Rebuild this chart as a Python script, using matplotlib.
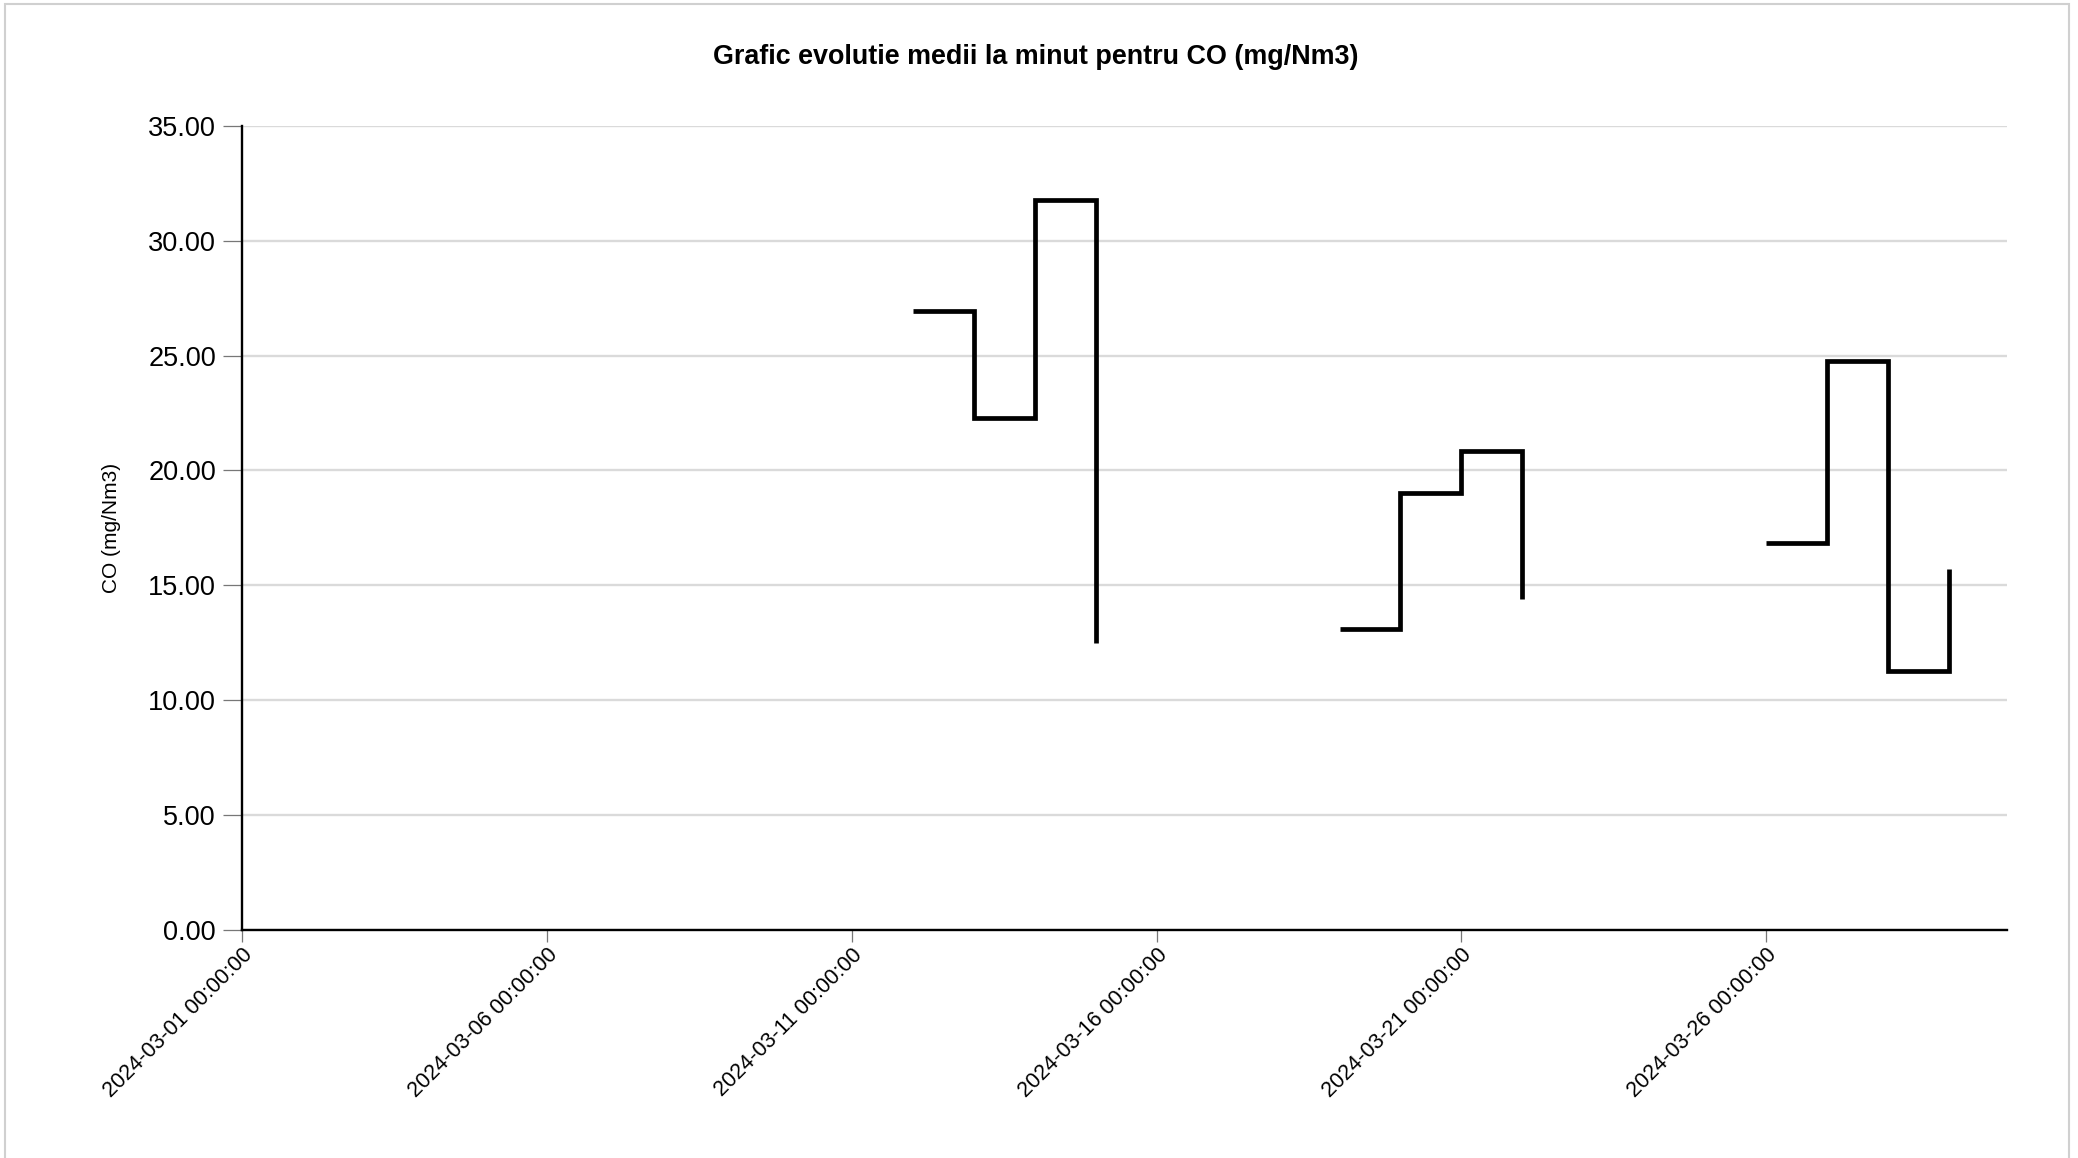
import matplotlib
matplotlib.use("Agg")
import matplotlib.pyplot as plt
import matplotlib.dates as mdates
from matplotlib.patches import Rectangle
from matplotlib.ticker import FormatStrFormatter
import pandas as pd

# --- data ---
seg1_dates = ["2024-03-12", "2024-03-13", "2024-03-14", "2024-03-15"]
seg1_vals = [26.95, 22.27, 31.78, 12.50]
seg2_dates = ["2024-03-19", "2024-03-20", "2024-03-21", "2024-03-22"]
seg2_vals = [13.11, 19.00, 20.86, 14.38]
seg3_dates = ["2024-03-26", "2024-03-27", "2024-03-28", "2024-03-29"]
seg3_vals = [16.84, 24.75, 11.27, 15.71]

x_start = "2024-03-01 00:00:00"
x_end = "2024-03-29 22:48:00"
x_ticks = ["2024-03-01", "2024-03-06", "2024-03-11", "2024-03-16", "2024-03-21", "2024-03-26"]
y_ticks = [0, 5, 10, 15, 20, 25, 30, 35]

title = "Grafic evolutie medii la minut pentru CO (mg/Nm3)"
ylabel = "CO (mg/Nm3)"

plt.rcParams['font.family'] = ['Liberation Sans', 'DejaVu Sans']

W, H = 2078, 1158
fig = plt.figure(figsize=(W / 100, H / 100), dpi=100)
fig.patch.set_facecolor("white")

ax = fig.add_axes([242.3 / W, 1 - 929.7 / H, (2007 - 242.3) / W, (929.7 - 126) / H])

for d, v in [(seg1_dates, seg1_vals), (seg2_dates, seg2_vals), (seg3_dates, seg3_vals)]:
    ax.plot(pd.to_datetime(d), v, drawstyle="steps-post", color="black",
            lw=3.4, solid_joinstyle="miter", solid_capstyle="butt", zorder=3)

ax.set_xlim(pd.Timestamp(x_start), pd.Timestamp(x_end))
ax.set_ylim(0, 35)
ax.set_yticks(y_ticks)
ax.yaxis.set_major_formatter(FormatStrFormatter("%.2f"))
ax.set_xticks(pd.to_datetime(x_ticks))
ax.xaxis.set_major_formatter(mdates.DateFormatter("%Y-%m-%d %H:%M:%S"))

ax.grid(axis="y", color="#dadada", lw=1.7, zorder=0)
ax.set_axisbelow(True)

for s in ["top", "right"]:
    ax.spines[s].set_visible(False)
for s in ["left", "bottom"]:
    ax.spines[s].set_color("black")
    ax.spines[s].set_linewidth(1.7)

ax.tick_params(axis="y", length=14, width=0.9, color="#777777", pad=5,
               labelsize=19.5, labelcolor="black")
ax.tick_params(axis="x", length=8.5, width=0.9, color="#777777", pad=2,
               labelsize=15.5, labelcolor="black")
for lbl in ax.get_xticklabels():
    lbl.set_rotation(45)
    lbl.set_ha("right")
    lbl.set_va("top")
    lbl.set_rotation_mode("anchor")

ax.set_ylabel(ylabel, fontsize=15, labelpad=0)
ax.yaxis.set_label_coords((121 - 242.3) / (2007 - 242.3), 0.5)

fig.text(0.4986, 1 - 57 / H, title, ha="center", va="center",
         fontsize=19.4, fontweight="bold")

# light frame around the chart
fig.patches.append(Rectangle((5 / W, -0.05), (2069 - 5) / W, 1.05 - 4 / H,
                             transform=fig.transFigure, fill=False,
                             edgecolor="#d0d0d0", lw=1.5))

fig.savefig("out.png", dpi=100, facecolor="white")
